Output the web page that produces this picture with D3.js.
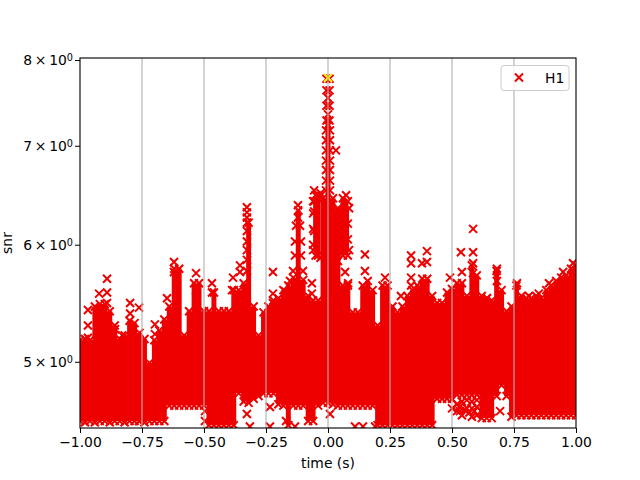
<!DOCTYPE html>
<html><head><meta charset="utf-8">
<style>html,body{margin:0;padding:0;background:#fff}text{font-family:"DejaVu Sans",sans-serif;fill:#000}</style>
<script src="https://cdn.jsdelivr.net/npm/d3@7"></script></head><body><svg id="c" width="640" height="480"></svg>
<script>
const xTicks=[-1,-0.75,-0.5,-0.25,0,0.25,0.5,0.75,1];
const yTicks=[5,6,7,8];
const seriesName="H1";
const envTimes=[-1,-.98,-.96,-.94,-.92,-.9,-.88,-.86,-.84,-.82,-.8,-.78,-.76,-.74,-.72,-.7,-.68,-.66,-.64,-.62,-.6,-.58,-.56,-.54,-.52,-.5,-.48,-.46,-.44,-.42,-.4,-.38,-.36,-.34,-.32,-.3,-.28,-.26,-.24,-.22,-.2,-.18,-.16,-.14,-.12,-.1,-.08,-.06,-.04,-.02,0,.02,.04,.06,.08,.1,.12,.14,.16,.18,.2,.22,.24,.26,.28,.3,.32,.34,.36,.38,.4,.42,.44,.46,.48,.5,.52,.54,.56,.58,.6,.62,.64,.66,.68,.7,.72,.74,.76,.78,.8,.82,.84,.86,.88,.9,.92,.94,.96,.98,1];
const envTop=[5.17,5.18,5.17,5.45,5.47,5.47,5.41,5.29,5.18,5.21,5.33,5.31,5.23,5.18,4.99,5.17,5.25,5.34,5.45,5.78,5.78,5.21,5.41,5.65,5.65,5.41,5.41,5.57,5.41,5.41,5.41,5.59,5.59,5.65,6.21,5.45,5.21,5.40,5.45,5.50,5.52,5.59,5.63,5.70,6.33,5.68,5.54,5.50,5.50,6.45,7.23,6.45,6.33,5.63,5.63,5.40,5.40,5.63,5.67,5.59,5.29,5.63,5.63,5.45,5.40,5.45,5.54,5.59,5.63,5.69,5.69,5.54,5.48,5.48,5.57,5.60,5.65,5.65,5.54,5.81,5.72,5.54,5.52,5.50,5.76,5.59,5.41,5.45,5.63,5.54,5.52,5.52,5.54,5.52,5.59,5.63,5.67,5.70,5.72,5.78,5.81];
const envBottom=[4.56,4.55,4.56,4.55,4.56,4.56,4.55,4.56,4.56,4.55,4.56,4.56,4.56,4.55,4.56,4.56,4.56,4.56,4.67,4.67,4.67,4.67,4.67,4.67,4.67,4.67,4.53,4.53,4.53,4.53,4.53,4.53,4.76,4.70,4.69,4.72,4.74,4.76,4.76,4.76,4.68,4.67,4.53,4.67,4.67,4.67,4.56,4.56,4.67,4.69,4.69,4.68,4.67,4.67,4.67,4.67,4.67,4.67,4.67,4.67,4.53,4.53,4.53,4.53,4.53,4.53,4.53,4.53,4.53,4.53,4.53,4.53,4.72,4.72,4.72,4.72,4.75,4.75,4.75,4.75,4.75,4.58,4.58,4.58,4.74,4.82,4.74,4.59,4.60,4.60,4.60,4.60,4.60,4.60,4.60,4.60,4.60,4.60,4.60,4.60,4.60];
const upperLeftTimes=[-.06,-.05,-.04,-.03];
const upperLeftTop=[6.42,6.48,6.48,6.50];
const upperLeftBottom=[5.95,5.90,5.90,5.88];
const upperRightTimes=[.04,.06,.08,.085];
const upperRightTop=[6.35,6.45,6.42,6.35];
const upperRightBottom=[5.85,5.90,5.90,5.95];
const extraTimes=[-.968,-.968,-.968,-.891,-.891,-.923,-.891,-.859,-.83,-.798,-.798,-.762,-.698,-.698,-.649,-.621,-.621,-.532,-.532,-.468,-.468,-.383,-.387,-.355,-.327,-.327,-.327,-.327,-.355,-.222,-.222,-.222,-.173,-.153,-.121,-.121,-.065,-.065,-.056,-.056,-.056,-.056,.032,.073,.069,.081,.149,.149,.23,.23,.294,.335,.335,.399,.399,.379,.335,.335,.492,.54,.536,.585,.585,.585,.585,.641,.681,.681,.762,.81,.85,.891,.948,.988,.915,-.327,-.315,-.234,-.234,-.169,-.133,.008,.109,.141,.19,-.496,-.496,-.762,-.625,.532,.694,
-.006,.006,-.006,.006,-.006,.006,-.006,.006,0,0,-.008,.008,-.008,.008,-.008,.008,-.008,.008,-.008,.008,-.008,.008,-.008,.008,
-.129,-.113,-.133,-.109,-.133,-.109,-.141,-.101,
-.327,-.327,-.327,-.327,-.327,
-.06,-.06,-.06,.08,.08,
.52,.52,.54,.54,.56,.56,.58,.58,.58,.6,.6,.6,.5,.53,.55,.57,.59];
const extraSnr=[5.42,5.29,5.19,5.69,5.57,5.56,5.48,5.26,5.21,5.48,5.39,5.44,5.30,5.22,5.52,5.84,5.75,5.74,5.59,5.65,5.57,5.70,5.59,5.75,6.36,6.26,6.31,6.21,5.81,5.75,5.56,5.48,5.58,5.67,6.38,6.26,5.65,5.56,6.53,6.42,6.32,6.13,6.95,6.48,5.75,5.65,5.91,5.76,5.70,5.52,5.54,5.90,5.83,5.94,5.84,5.83,5.70,5.63,5.70,5.75,5.93,6.15,5.93,5.83,5.74,5.52,5.78,5.67,5.65,5.54,5.56,5.65,5.75,5.83,5.54,4.61,4.52,4.66,4.52,4.56,4.52,4.61,4.52,4.52,4.52,4.56,4.63,4.56,4.76,4.63,4.63,
7.77,7.77,7.63,7.63,7.45,7.45,7.28,7.28,7.54,7.35,7.17,7.17,7.06,7.06,6.95,6.95,6.84,6.84,6.74,6.74,6.63,6.63,6.53,6.53,
6.18,6.18,6.03,6.03,5.90,5.90,5.76,5.76,
6.13,6.03,5.95,5.86,5.76,
6.3,6.15,6.0,6.2,6.05,
4.68,4.63,4.70,4.60,4.71,4.65,4.70,4.65,4.59,4.71,4.66,4.60,4.65,4.66,4.64,4.62,4.63];
const peakTime=[0];
const peakSnr=[7.78];

const red="#ef0000";
const svg=d3.select("#c");
const L=80,R=576,T=58,B=428;
const x=d3.scaleLinear().domain([-1,1]).range([L,R]);
const y=d3.scaleLog().domain([4.51,8.025]).range([B,T]);
svg.append("defs").append("clipPath").attr("id","pc").append("rect").attr("x",L).attr("y",T).attr("width",R-L).attr("height",B-T);
const g=svg.append("g").attr("clip-path","url(#pc)");
const R_M=4;
const xPath=`M${-R_M},${-R_M}L${R_M},${R_M}M${-R_M},${R_M}L${R_M},${-R_M}`;
const xs=(sel,pts,col)=>{
  sel.append("g").selectAll("path").data(pts).join("path")
   .attr("transform",p=>`translate(${x(p[0])},${y(p[1])})`)
   .attr("d",xPath).attr("stroke",col).attr("stroke-width",2).attr("fill","none");
};
const band=(ts,tp,bt)=>{
  const d=ts.map((t,i)=>({t,a:tp[i],b:bt[i]}));
  g.append("path").datum(d).attr("fill",red)
   .attr("d",d3.area().curve(d3.curveStep).x(p=>x(p.t)).y0(p=>y(p.b)).y1(p=>y(p.a)));
  xs(g,d.map(p=>[p.t,p.a]).concat(d.map(p=>[p.t,p.b])),red);
};
band(envTimes,envTop,envBottom);
band(upperLeftTimes,upperLeftTop,upperLeftBottom);
band(upperRightTimes,upperRightTop,upperRightBottom);
xs(g,extraTimes.map((t,i)=>[t,extraSnr[i]]),red);
xs(g,peakTime.map((t,i)=>[t,peakSnr[i]]),"#ffff00");

svg.append("g").selectAll("line").data(xTicks.slice(1,-1)).join("line")
 .attr("x1",d=>x(d)).attr("x2",d=>x(d)).attr("y1",T).attr("y2",B)
 .attr("stroke","#b0b0b0").attr("stroke-width",1.11);

svg.append("rect").attr("x",L).attr("y",T).attr("width",R-L).attr("height",B-T).attr("fill","none").attr("stroke","#000").attr("stroke-width",1.11);

const ax=svg.append("g").attr("transform",`translate(0,${B})`)
 .call(d3.axisBottom(x).tickValues(xTicks).tickFormat(d=>d3.format(".2f")(d).replace("-","\u2212")).tickSize(5).tickPadding(4));
ax.select(".domain").remove();
ax.selectAll("text").attr("font-size",13.9).style("font-family",'"DejaVu Sans"').attr("fill","#000");
const ay=svg.append("g").attr("transform",`translate(${L},0)`)
 .call(d3.axisLeft(y).tickValues(yTicks).tickFormat(()=>"").tickSize(5));
ay.select(".domain").remove();
ay.selectAll(".tick text").each(function(d){
  const t=d3.select(this).attr("x",-7).attr("dy","0.32em").attr("font-size",13.9).attr("text-anchor","end").style("font-family",'"DejaVu Sans"').attr("fill","#000");
  t.append("tspan").text(d+"\u2009\u00d7\u200910");
  t.append("tspan").attr("dy","-0.42em").attr("font-size",9.7).text("0");
});
svg.append("text").attr("x",(L+R)/2).attr("y",468).attr("text-anchor","middle").attr("font-size",13.9).text("time (s)");
svg.append("text").attr("transform",`translate(12,${(T+B)/2}) rotate(-90)`).attr("text-anchor","middle").attr("font-size",13.9).text("snr");

svg.append("rect").attr("x",501).attr("y",65.5).attr("width",68).attr("height",25).attr("rx",3)
 .attr("fill","#fff").attr("fill-opacity",0.8).attr("stroke","#ccc").attr("stroke-width",1);
svg.append("path").attr("transform","translate(519,77.5)").attr("d",xPath).attr("stroke","#f00000").attr("stroke-width",2).attr("fill","none");
svg.append("text").attr("x",545).attr("y",82.5).attr("font-size",13.9).text(seriesName);
</script></body></html>
